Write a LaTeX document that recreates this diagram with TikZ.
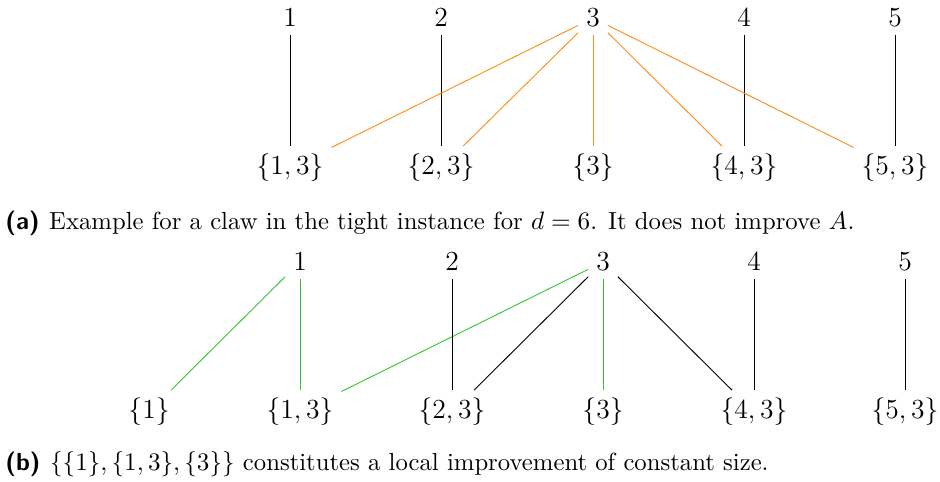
\documentclass[tikz,border=0pt]{standalone}
\usetikzlibrary{calc}
\definecolor{ClawClr}{rgb}{1,0.55,0.1}
\definecolor{ImpClr}{rgb}{0.2,0.78,0.2}

\begin{document}
\begin{tikzpicture}[x=0.01529cm,y=-0.01529cm,
  every node/.style={font=\fontsize{12.4}{15}\selectfont},
  capt/.style={anchor=base west,inner sep=0pt,font=\fontsize{10.75}{13}\selectfont},
  edge/.style={line width=0.4pt,color=black},
  claw/.style={line width=0.4pt,color=ClawClr},
  imp/.style={line width=0.4pt,color=ImpClr}]
\useasboundingbox (0,0) rectangle (940,481);

% (a) the claw
\node (a1) at (290,18) {$1$};
\node (a2) at (441,18) {$2$};
\node (a3) at (593,18) {$3$};
\node (a4) at (744,18) {$4$};
\node (a5) at (895,18) {$5$};

\node (a13) at (290,168) {$\{1,3\}$};
\node (a23) at (441,168) {$\{2,3\}$};
\node (a33) at (593,168) {$\{3\}$};
\node (a43) at (744,168) {$\{4,3\}$};
\node (a53) at (895,168) {$\{5,3\}$};

\draw[edge] (a1) -- (a13);
\draw[edge] (a2) -- (a23);
\draw[edge] (a4) -- (a43);
\draw[edge] (a5) -- (a53);

\draw[claw] (a3) -- (a13);
\draw[claw] (a3) -- (a23);
\draw[claw] (a3) -- (a33);
\draw[claw] (a3) -- (a43);
\draw[claw] (a3) -- (a53);

\node[capt] (capa) at (5,229) {\textsf{\textbf{(a)}}\hspace{4.2pt}Example for a claw in the tight instance for $d=6$. It does not improve $A$.};

% (b) the improvement
\node (b1) at (300,262) {$1$};
\node (b2) at (452,262) {$2$};
\node (b3) at (603,262) {$3$};
\node (b4) at (754,262) {$4$};
\node (b5) at (905,262) {$5$};

\node (b11) at (149,412) {$\{1\}$};
\node (b13) at (300,412) {$\{1,3\}$};
\node (b23) at (452,412) {$\{2,3\}$};
\node (b33) at (603,412) {$\{3\}$};
\node (b43) at (754,412) {$\{4,3\}$};
\node (b53) at (905,412) {$\{5,3\}$};

\draw[imp] (b1) -- (b11);
\draw[imp] (b1) -- (b13);
\draw[imp] (b3) -- (b13);
\draw[imp] (b3) -- (b33);

\draw[edge] (b2) -- (b23);
\draw[edge] (b3) -- (b23);
\draw[edge] (b3) -- (b43);
\draw[edge] (b4) -- (b43);
\draw[edge] (b5) -- (b53);

\node[capt] (capb) at (5,470) {\textsf{\textbf{(b)}}\hspace{4.2pt}$\{\{1\},\{1,3\},\{3\}\}$ constitutes a local improvement of constant size.};

\end{tikzpicture}
\end{document}
